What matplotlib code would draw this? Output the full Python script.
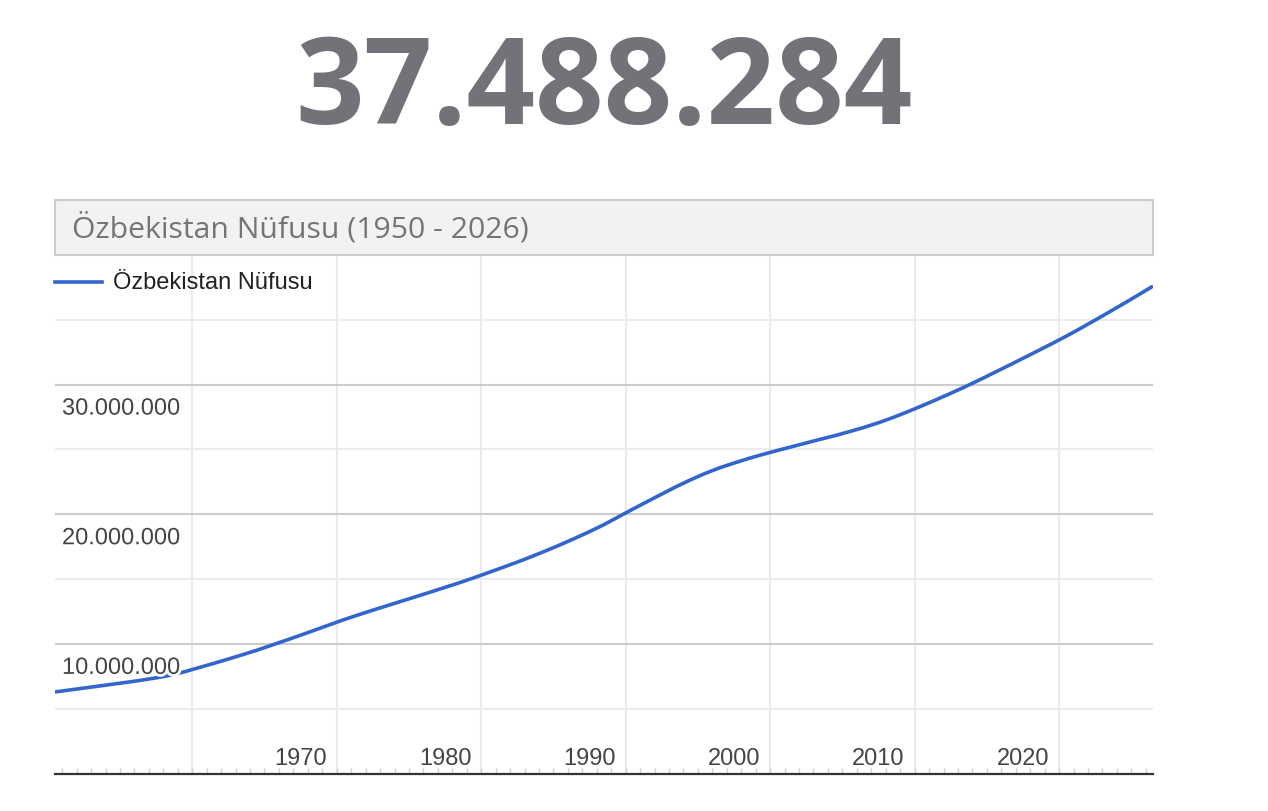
import numpy as np
import matplotlib.pyplot as plt
import matplotlib.patheffects as pe
from matplotlib.lines import Line2D
from matplotlib.patches import Rectangle

# yearly population (mid-year), millions
years = np.arange(1950, 2027)
population_m = [
    6.29, 6.44, 6.59, 6.74, 6.89, 7.04, 7.20, 7.38, 7.58, 7.86,
    8.18, 8.50, 8.83, 9.17, 9.52, 9.90, 10.28, 10.67, 11.07, 11.47,
    11.87, 12.24, 12.60, 12.95, 13.30, 13.65, 14.00, 14.36, 14.72, 15.10,
    15.50, 15.90, 16.31, 16.74, 17.19, 17.66, 18.15, 18.66, 19.20, 19.80,
    20.40, 20.98, 21.56, 22.13, 22.66, 23.15, 23.58, 23.95, 24.30, 24.62,
    24.92, 25.21, 25.50, 25.79, 26.07, 26.38, 26.70, 27.06, 27.46, 27.90,
    28.36, 28.84, 29.33, 29.84, 30.37, 30.92, 31.47, 32.03, 32.59, 33.16,
    33.74, 34.35, 34.98, 35.62, 36.27, 36.93, 37.60,
]
headline = "37.488.284"
chart_title = "Özbekistan Nüfusu (1950 - 2026)"
series_name = "Özbekistan Nüfusu"
x_labels = ["1970", "1980", "1990", "2000", "2010", "2020"]
y_labels = ["10.000.000", "20.000.000", "30.000.000"]

W, H = 1268, 812
fig = plt.figure(figsize=(W / 100, H / 100), dpi=100)


def fx(px):
    return px / W


def fy(py):
    return 1 - py / H


# plot area in pixels: x 55..1153, y 256..774.5
ax = fig.add_axes([fx(55), fy(774.5), fx(1153 - 55), (774.5 - 256) / H])

x = years + 0.5
y = np.array(population_m) * 1e6
ax.plot(x, y, color="#3366cc", lw=2.6, zorder=3, solid_capstyle="butt")

ax.set_xlim(1950.5, 2026.5)
ax.set_ylim(0, 40e6)

# grid
decades = np.arange(1960, 2030, 10)
for d in decades:
    ax.axvline(d, color="#ebebeb", lw=1.5, zorder=1)
for v in [5e6, 15e6, 25e6, 35e6]:
    ax.axhline(v, color="#ebebeb", lw=1.5, zorder=1)
for v in [10e6, 20e6, 30e6]:
    ax.axhline(v, color="#cccccc", lw=1.5, zorder=1.5)

# axis line and little year ticks
for s in ["top", "left", "right"]:
    ax.spines[s].set_visible(False)
ax.spines["bottom"].set_color("#333333")
ax.spines["bottom"].set_linewidth(1.6)
ax.set_yticks([])
ax.set_xticks(np.arange(1951, 2027), minor=True)
ax.set_xticks([])
ax.tick_params(axis="x", which="minor", direction="in", length=4.5,
               width=1, color="#d0d0d0")

halo = [pe.withStroke(linewidth=4, foreground="white")]
for lab in y_labels:
    val = float(lab.replace(".", ""))
    ax.annotate(lab, xy=(1950.5, val), xytext=(7, -24),
                textcoords="offset pixels", ha="left", va="center",
                fontsize=17, color="#444444", family="Liberation Sans",
                path_effects=halo, zorder=5)

for lab in x_labels:
    yr = int(lab)
    ax.annotate(lab, xy=(yr - 2.5, 0), xytext=(0, 15),
                textcoords="offset pixels", ha="center", va="center",
                fontsize=17, color="#444444", family="Liberation Sans",
                zorder=5)

# title box
fig.patches.append(Rectangle((fx(55), fy(256)), fx(1153 - 55), (256 - 201) / H,
                             transform=fig.transFigure, fc="#f2f2f2",
                             ec="#cccccc", lw=1.5, zorder=4))
fig.text(fx(72), fy(229), chart_title, ha="left", va="center",
         fontsize=21.7, color="#757575", family="Open Sans", zorder=5)

# legend
fig.add_artist(Line2D([fx(55), fx(102)], [fy(283), fy(283)],
                      color="#3366cc", lw=2.6))
fig.text(fx(113), fy(283), series_name, ha="left", va="center",
         fontsize=17, color="#222222", family="Liberation Sans")

# big number
fig.text(fx(604), fy(92), headline, ha="center", va="center",
         fontsize=86.5, fontweight="bold", color="#727278", family="Open Sans")

fig.savefig("out.png", dpi=100)
